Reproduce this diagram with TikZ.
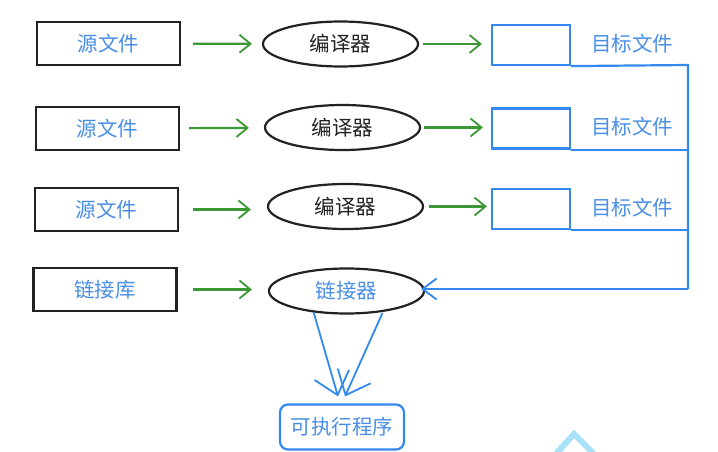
\documentclass[tikz,border=0pt]{standalone}
\usepackage{fontspec}
\setmainfont{Noto Sans CJK SC}
\usetikzlibrary{arrows.meta,shapes.geometric}
\definecolor{txtblue}{HTML}{4A8FE6}
\definecolor{lineblue}{HTML}{3389F0}
\definecolor{arrgreen}{HTML}{3B9834}
\definecolor{bord}{HTML}{222222}
\definecolor{chev}{HTML}{A8E2F8}
\tikzset{
  srcbox/.style={draw=bord, line width=2.2pt, minimum width=143pt, minimum height=43pt, inner sep=0pt, text=txtblue, font=\fontsize{20.5}{24}\selectfont},
  compell/.style={ellipse, draw=bord, line width=2.2pt, minimum width=155pt, minimum height=45pt, inner sep=0pt, text=bord, font=\fontsize{20.5}{24}\selectfont},
  tgtbox/.style={draw=lineblue, line width=2.2pt, minimum width=78pt, minimum height=40pt, inner sep=0pt},
  tgtlabel/.style={text=txtblue, inner sep=0pt, font=\fontsize{20.5}{24}\selectfont},
  exebox/.style={draw=lineblue, line width=2.2pt, rounded corners=8pt, minimum width=124pt, minimum height=45pt, inner sep=0pt, text=txtblue, font=\fontsize{20.5}{24}\selectfont},
  garrow/.style={draw=arrgreen, line width=2.2pt, -{Straight Barb[length=11pt,width=18pt,line width=1.8pt]}},
  bline/.style={draw=lineblue, line width=2.2pt},
  barrow/.style={draw=lineblue, line width=2pt, -{Straight Barb[length=14pt,width=21pt,line width=1.8pt]}},
  darrow/.style={draw=lineblue, line width=1.8pt, -{Straight Barb[length=21pt,width=36pt,line width=1.8pt]}}
}
\begin{document}
\begin{tikzpicture}[x=1pt,y=-1pt]
\useasboundingbox (0,0) rectangle (718,452);
\fill[white] (0,0) rectangle (718,452);
% sources
\node[srcbox] (s1) at (108.5,43.5) {源文件};
\node[srcbox] (s2) at (107.5,128.5) {源文件};
\node[srcbox] (s3) at (106.5,209.5) {源文件};
\node[srcbox] (s4) at (105,289.5) {链接库};
% compilers
\node[compell] (c1) at (340.5,44) {编译器};
\node[compell] (c2) at (342.5,127.5) {编译器};
\node[compell] (c3) at (345.5,206.5) {编译器};
\node[compell, text=txtblue] (l) at (346.5,291) {链接器};
% targets
\node[tgtbox] (t1) at (531,45) {};
\node[tgtbox] (t2) at (531,128.5) {};
\node[tgtbox] (t3) at (531,209) {};
\node[tgtlabel] (g1) at (632,44) {目标文件};
\node[tgtlabel] (g2) at (632,127) {目标文件};
\node[tgtlabel] (g3) at (632,208) {目标文件};
% executable
\node[exebox] (exe) at (342,427) {可执行程序};
% green arrows
\draw[garrow, shorten <=12pt, shorten >=10pt] (s1) -- (c1);
\draw[garrow, shorten <=9pt, shorten >=15pt] (s2) -- (c2);
\draw[garrow, shorten <=14pt, shorten >=16pt] (s3.east) -- (c3.west |- s3.east);
\draw[garrow, shorten <=15pt, shorten >=16pt] (s4.east) -- (l.west |- s4.east);
\draw[garrow, shorten <=4pt, shorten >=9pt] (c1.east) -- (t1.west |- c1.east);
\draw[garrow, shorten <=3pt, shorten >=8pt] (c2.east) -- (t2.west |- c2.east);
\draw[garrow, shorten <=5pt, shorten >=4pt] (c3.east) -- (t3.west |- c3.east);
% blue rail
\coordinate (rtop) at (688,65);
\coordinate (rbot) at (688,289);
\draw[bline] (t1.south east) -- (rtop) -- (rbot);
\draw[bline] (t2.south east) -- (t2.south east -| rtop);
\draw[bline] (t3.south east) -- (t3.south east -| rtop);
\draw[barrow, shorten >=-4pt] (rbot) -- (l.east |- rbot);
% linker to executable
\draw[darrow] ([xshift=-33pt,yshift=-21pt]l.center) -- ([xshift=-4pt,yshift=7pt]exe.north);
\draw[darrow] ([xshift=36pt,yshift=-22pt]l.center) -- ([xshift=3pt,yshift=7pt]exe.north);
% light chevron fragment at the bottom
\draw[chev, line width=6pt, line join=miter] (554,456) -- (574,434) -- (596,456);
\end{tikzpicture}
\end{document}
